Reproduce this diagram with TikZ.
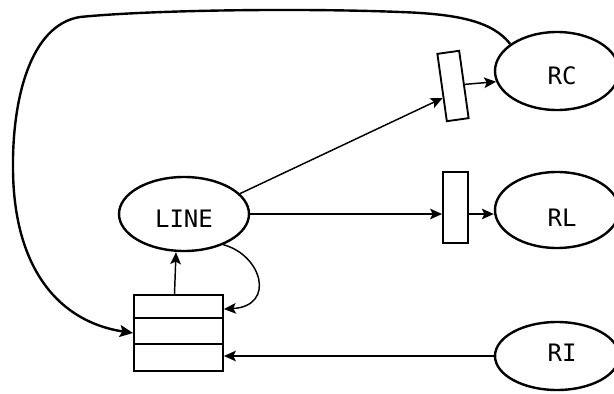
\documentclass[tikz,border=0pt]{standalone}
\usepackage{fontspec}
\newfontfamily\plotfont{DejaVu Sans Mono}
\usetikzlibrary{shapes.geometric,arrows.meta,calc}
\begin{document}
\begin{tikzpicture}[x=0.75pt,y=-0.75pt,
  txt/.style={font=\plotfont\fontsize{18}{20}\selectfont,inner sep=0pt},
  oval/.style={ellipse,draw,line width=1.8pt,inner sep=0pt},
  gate/.style={rectangle,draw,line width=1.4pt,inner sep=0pt,minimum width={22*0.75pt},minimum height={70*0.75pt}},
  arr/.style={line width=1.1pt,-{Stealth[length=9pt,width=8pt,inset=2pt]}},
  loop/.style={line width=1.8pt,-{Stealth[length=10pt,width=9pt,inset=2pt]}}]
\useasboundingbox (0,0) rectangle (614,393);
\clip (0,0) rectangle (614,393);
% nodes
\node[oval,minimum width={130*0.75pt},minimum height={74*0.75pt}] (line) at (184,214) {};
\node[txt] (linetext) at (184,219) {LINE};
\node[rectangle,draw,line width=1.4pt,inner sep=0pt,minimum width={89*0.75pt},minimum height={76*0.75pt}] (stack) at (178.5,333) {};
\draw[line width=1.4pt] ($(stack.north west)!0.31!(stack.south west)$) -- ($(stack.north east)!0.31!(stack.south east)$);
\draw[line width=1.4pt] ($(stack.north west)!0.645!(stack.south west)$) -- ($(stack.north east)!0.645!(stack.south east)$);
\node[gate,rotate=8,minimum height={68*0.75pt}] (rcbox) at (453,86) {};
\node[gate,minimum width={25*0.75pt},minimum height={71*0.75pt}] (rlbox) at (455.5,207.5) {};
\node[oval,minimum width={124*0.75pt},minimum height={78*0.75pt}] (rc) at (557,71) {};
\node[txt] (rctext) at (562,76) {RC};
\node[oval,minimum width={124*0.75pt},minimum height={76*0.75pt}] (rl) at (557,210) {};
\node[txt] (rltext) at (562,218) {RL};
\node[oval,minimum width={124*0.75pt},minimum height={68*0.75pt}] (ri) at (557,356) {};
\node[txt] (ritext) at (562,353) {RI};
% connectors
\draw[arr] ([xshift=-3pt]stack.north) -- ([xshift=-6pt]line.south);
\draw[arr] (line.-38) .. controls (262,255) and (276,306) .. ($(stack.north east)+(0,15)$);
\draw[loop] (rc.150) .. controls (493,22) and (460,14) .. (400,12)
  .. controls (300,8) and (150,10) .. (80,17)
  .. controls (30,25) and (12,100) .. (13,170)
  .. controls (14,270) and (60,322) .. (stack.west);
\draw[arr] (line.20) -- ($(rcbox.north west)!0.65!(rcbox.south west)$);
\draw[arr] (rcbox.east) -- (rc.190);
\draw[arr] (line.east) -- (line.east -| rlbox.west);
\draw[arr] (line.east -| rlbox.east) -- (line.east -| rl.west);
\draw[arr] (ri.west) -- (ri.west -| stack.east);
\end{tikzpicture}
\end{document}
